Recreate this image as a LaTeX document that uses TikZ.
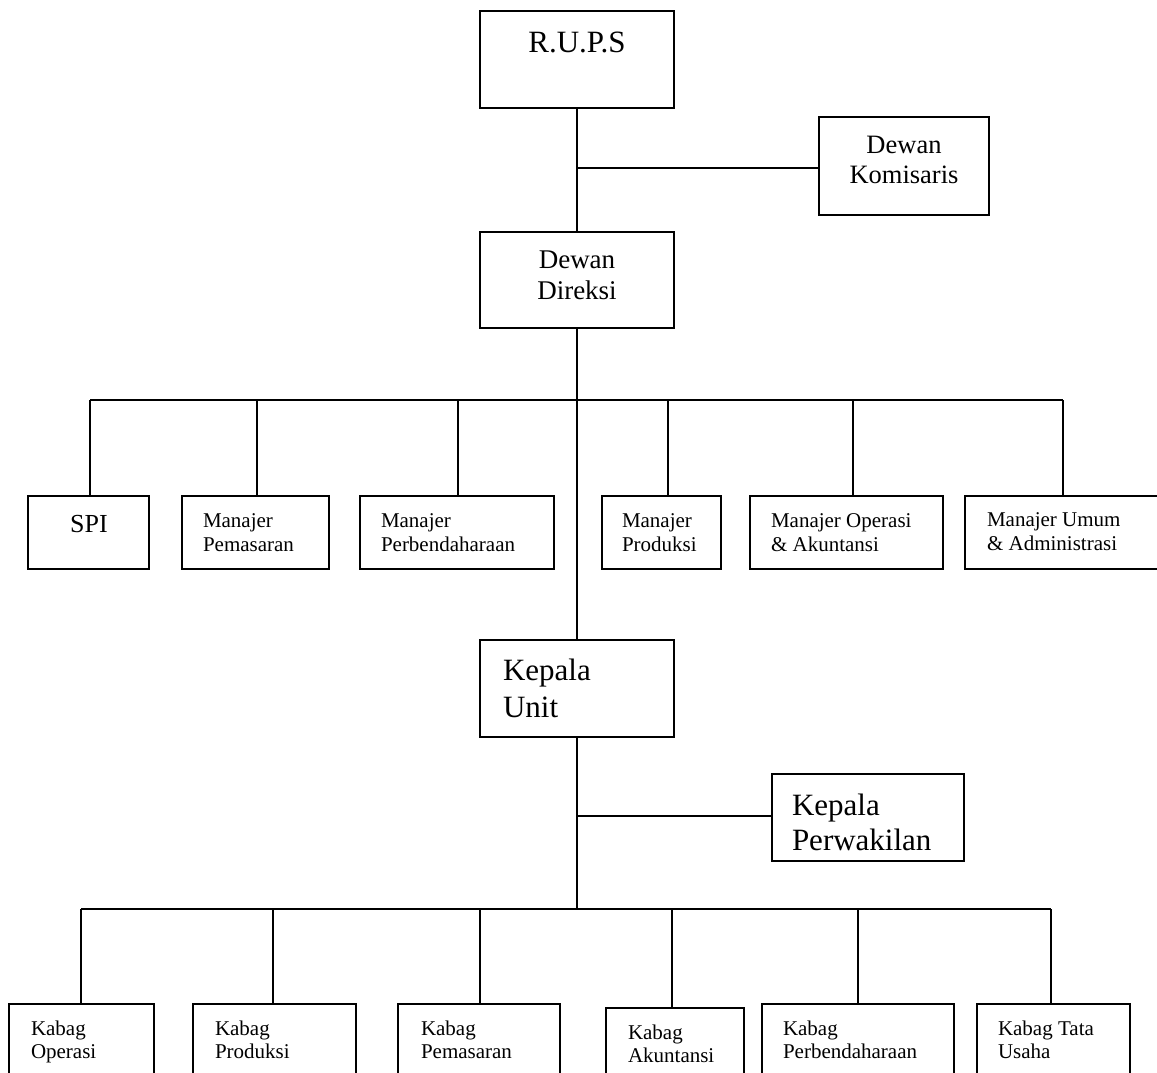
\documentclass[tikz,border=0pt]{standalone}
\usepackage{fontspec}
\setmainfont{Liberation Serif}
\newcommand{\twol}[2]{\vtop{\hbox{#1}\hbox{#2}}}
\newcommand{\twoc}[2]{\vtop{\halign{\hfil##\hfil\cr #1\cr #2\cr}}}
\begin{document}
\begin{tikzpicture}[x=1pt,y=-1pt,
  box/.style={draw, line width=1.6pt, inner sep=0pt, outer sep=0pt},
  conn/.style={line width=1.1pt},
  lbl/.style={inner sep=0pt, outer sep=0pt, anchor=base west, font=\fontsize{21}{24}\selectfont},
  kbl/.style={inner sep=0pt, outer sep=0pt, anchor=base west, font=\fontsize{21}{23}\selectfont},
  big/.style={inner sep=0pt, outer sep=0pt, font=\fontsize{31}{36}\selectfont},
  mid/.style={inner sep=0pt, outer sep=0pt, anchor=base, font=\fontsize{26.5}{30}\selectfont}
]
\useasboundingbox (0,0) rectangle (1157,1072);
\clip (0,0) rectangle (1157,1072);

% top boxes
\node[box, minimum width=194, minimum height=97] (rups) at (577,59.5) {};
\node[box, minimum width=170, minimum height=98] (kom) at (904,166) {};
\node[box, minimum width=194, minimum height=96] (dir) at (577,280) {};

% managers
\node[box, minimum width=121, minimum height=73] (spi) at (88.5,532.5) {};
\node[box, minimum width=147, minimum height=73] (mpem) at (255.5,532.5) {};
\node[box, minimum width=194, minimum height=73] (mperb) at (457,532.5) {};
\node[box, minimum width=119, minimum height=73] (mprod) at (661.5,532.5) {};
\node[box, minimum width=193, minimum height=73] (mop) at (846.5,532.5) {};
\node[box, minimum width=200, minimum height=73] (mum) at (1065,532.5) {};

% unit
\node[box, minimum width=194, minimum height=97] (unit) at (577,688.5) {};
\node[box, minimum width=192, minimum height=87] (per) at (868,817.5) {};

% kabag
\node[box, minimum width=145, minimum height=91] (kop) at (81.5,1049.5) {};
\node[box, minimum width=163, minimum height=91] (kprod) at (274.5,1049.5) {};
\node[box, minimum width=162, minimum height=91] (kpem) at (479,1049.5) {};
\node[box, minimum width=138, minimum height=87] (kak) at (675,1051.5) {};
\node[box, minimum width=192, minimum height=91] (kperb) at (858,1049.5) {};
\node[box, minimum width=153, minimum height=91] (ktata) at (1053.5,1049.5) {};

% texts
\node[big, anchor=base] (trups) at (577,52) {R.U.P.S};
\node[mid] (tkom) at (904,153) {\twoc{Dewan}{Komisaris}};
\node[mid, font=\fontsize{27}{31}\selectfont] (tdir) at (577,268) {\twoc{Dewan}{Direksi}};
\node[inner sep=0pt, anchor=base, font=\fontsize{26}{30}\selectfont] (tspi) at (89,532) {SPI};
\node[lbl] (tmpem) at (203,527) {\twol{Manajer}{Pemasaran}};
\node[lbl] (tmperb) at (381,527) {\twol{Manajer}{Perbendaharaan}};
\node[lbl] (tmprod) at (622,527) {\twol{Manajer}{Produksi}};
\node[lbl] (tmop) at (771,527) {\twol{Manajer Operasi}{\& Akuntansi}};
\node[lbl] (tmum) at (987,526) {\twol{Manajer Umum}{\& Administrasi}};
\node[big, anchor=base west, font=\fontsize{31}{37}\selectfont] (tunit) at (503,680) {\twol{Kepala}{Unit}};
\node[big, anchor=base west, font=\fontsize{31}{35}\selectfont] (tper) at (792,815) {\twol{Kepala}{Perwakilan}};
\node[kbl] (tkop) at (31,1035) {\twol{Kabag}{Operasi}};
\node[kbl] (tkprod) at (215,1035) {\twol{Kabag}{Produksi}};
\node[kbl] (tkpem) at (421,1035) {\twol{Kabag}{Pemasaran}};
\node[kbl] (tkak) at (628,1039) {\twol{Kabag}{Akuntansi}};
\node[kbl] (tkperb) at (783,1035) {\twol{Kabag}{Perbendaharaan}};
\node[kbl] (tktata) at (998,1035) {\twol{Kabag Tata}{Usaha}};

% connectors top
\coordinate (j1) at (577,168);
\draw[conn] (rups.south) -- (dir.north);
\draw[conn] (j1) -- (j1 -| kom.west);

% manager bus
\coordinate (m1) at (90,400);
\coordinate (m2) at (257,400);
\coordinate (m3) at (458,400);
\coordinate (m4) at (668,400);
\coordinate (m5) at (853,400);
\coordinate (m6) at (1063,400);
\draw[conn] (m1) -- (m6);
\draw[conn] (m1) -- (m1 |- spi.north);
\draw[conn] (m2) -- (m2 |- mpem.north);
\draw[conn] (m3) -- (m3 |- mperb.north);
\draw[conn] (m4) -- (m4 |- mprod.north);
\draw[conn] (m5) -- (m5 |- mop.north);
\draw[conn] (m6) -- (m6 |- mum.north);
\draw[conn] (dir.south) -- (unit.north);

% unit connectors
\coordinate (j2) at (577,816);
\draw[conn] (j2) -- (j2 -| per.west);
\coordinate (k1) at (81,909);
\coordinate (k2) at (273,909);
\coordinate (k3) at (480,909);
\coordinate (k4) at (672,909);
\coordinate (k5) at (858,909);
\coordinate (k6) at (1051,909);
\draw[conn] (unit.south) -- (unit.south |- k1);
\draw[conn] (k1) -- (k6);
\draw[conn] (k1) -- (k1 |- kop.north);
\draw[conn] (k2) -- (k2 |- kprod.north);
\draw[conn] (k3) -- (k3 |- kpem.north);
\draw[conn] (k4) -- (k4 |- kak.north);
\draw[conn] (k5) -- (k5 |- kperb.north);
\draw[conn] (k6) -- (k6 |- ktata.north);
\end{tikzpicture}
\end{document}
